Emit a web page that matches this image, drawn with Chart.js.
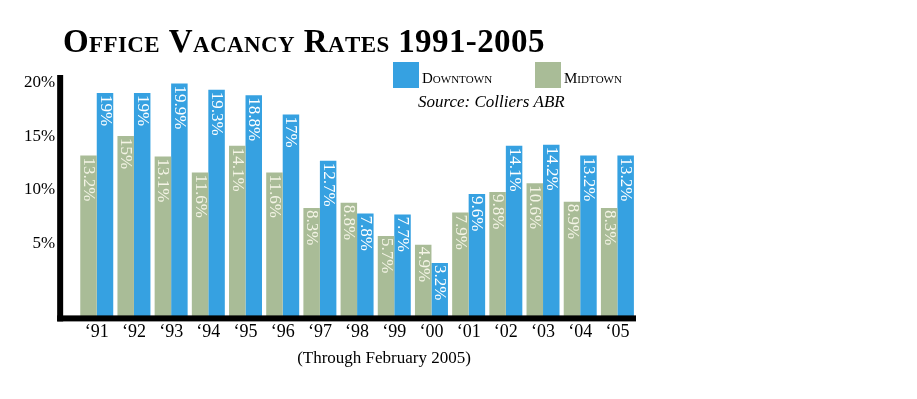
<!DOCTYPE html>
<html>
<head>
<meta charset="utf-8">
<title>Office Vacancy Rates 1991-2005</title>
<script src="https://cdn.jsdelivr.net/npm/chart.js@4.4.1/dist/chart.umd.min.js"></script>
<style>
    html, body { margin: 0; padding: 0; background: #fff; }
    #chart { display: block; }
</style>
</head>
<body>
<canvas id="chart" width="917" height="399"></canvas>
<script>
// Office vacancy rates 1991-2005 - Chart.js
const years = ['\u201891', '\u201892', '\u201893', '\u201894', '\u201895', '\u201896', '\u201897', '\u201898',
    '\u201899', '\u201800', '\u201801', '\u201802', '\u201803', '\u201804', '\u201805'];
const midtown = [13.2, 15, 13.1, 11.6, 14.1, 11.6, 8.3, 8.8, 5.7, 4.9, 7.9, 9.8, 10.6, 8.9, 8.3];
const downtown = [19, 19, 19.9, 19.3, 18.8, 17, 12.7, 7.8, 7.7, 3.2, 9.6, 14.1, 14.2, 13.2, 13.2];
const yTicks = [5, 10, 15, 20];

const SERIF = "'Liberation Serif', 'Times New Roman', serif";
const BLUE = '#36a1e1';
const GREEN = '#a9bc97';

// the bottom line sits a bit below zero in the original graphic
const Y_MIN = -1.96;
const Y_MAX = 20.68;

// draws text with real capitals large and lower case as smaller capitals
function drawCaps(ctx, text, x, y, big, small, weight, spacing) {
    let cx = x;
    for (const ch of text) {
        const lower = ch !== ch.toUpperCase();
        const c = ch.toUpperCase();
        ctx.font = `${weight} ${lower ? small : big}px ${SERIF}`;
        ctx.fillText(c, cx, y);
        cx += ctx.measureText(c).width + spacing;
    }
    return cx;
}

const decorPlugin = {
    id: 'decor',
    afterDatasetsDraw(chart) {
        const { ctx, chartArea: a } = chart;
        ctx.save();

        // heavy black axis lines
        ctx.fillStyle = '#000';
        const axisX = a.left - 21;
        ctx.fillRect(axisX, a.top, 6, a.bottom + 3 - a.top);
        ctx.fillRect(axisX, a.bottom - 3, a.right - axisX, 6);

        // rotated value labels inside the bars
        ctx.font = `17px ${SERIF}`;
        ctx.textAlign = 'left';
        ctx.textBaseline = 'middle';
        chart.data.datasets.forEach((ds, i) => {
            ctx.fillStyle = ds.valueColor;
            chart.getDatasetMeta(i).data.forEach((bar, j) => {
                ctx.save();
                ctx.translate(bar.x, bar.y + 2);
                ctx.rotate(Math.PI / 2);
                ctx.fillText(ds.data[j] + '%', 0, 0);
                ctx.restore();
            });
        });
        ctx.restore();
    },
    afterDraw(chart) {
        const ctx = chart.ctx;
        ctx.save();
        ctx.fillStyle = '#000';
        ctx.textAlign = 'left';
        ctx.textBaseline = 'alphabetic';

        drawCaps(ctx, 'Office Vacancy Rates 1991-2005', 63, 52, 33, 23, 'bold', 0.4);

        // legend, Downtown first
        const legendX = [393, 535];
        [...chart.data.datasets].reverse().forEach((ds, i) => {
            ctx.fillStyle = ds.backgroundColor;
            ctx.fillRect(legendX[i], 62, 26, 26);
            ctx.fillStyle = '#000';
            drawCaps(ctx, ds.label, legendX[i] + 29, 82.5, 15, 11, 'normal', 0);
        });

        ctx.font = `italic 17px ${SERIF}`;
        ctx.fillText('Source: Colliers ABR', 418, 107);

        ctx.textAlign = 'center';
        ctx.font = `17px ${SERIF}`;
        ctx.fillText('(Through February 2005)', 384, 363);
        ctx.restore();
    }
};

Chart.defaults.font.family = SERIF;
Chart.defaults.color = '#000';

new Chart(document.getElementById('chart'), {
    type: 'bar',
    data: {
        labels: years,
        datasets: [
            {
                label: 'Midtown',
                data: midtown,
                backgroundColor: GREEN,
                valueColor: '#f4f4e6',
                base: Y_MIN
            },
            {
                label: 'Downtown',
                data: downtown,
                backgroundColor: BLUE,
                valueColor: '#ffffff',
                base: Y_MIN
            }
        ]
    },
    options: {
        responsive: false,
        animation: false,
        devicePixelRatio: 1,
        layout: { padding: { top: 75, left: 1, right: 281, bottom: 53 } },
        categoryPercentage: 0.887,
        barPercentage: 1,
        plugins: {
            legend: { display: false },
            tooltip: { enabled: false }
        },
        scales: {
            x: {
                grid: { display: false, drawTicks: false },
                border: { display: false },
                ticks: { font: { size: 18 }, padding: 3, color: '#000' }
            },
            y: {
                min: Y_MIN,
                max: Y_MAX,
                grid: { display: false, drawTicks: false },
                border: { display: false },
                afterBuildTicks: (scale) => {
                    scale.ticks = yTicks.map(v => ({ value: v }));
                },
                ticks: {
                    font: { size: 17 },
                    padding: 23,
                    color: '#000',
                    callback: (v) => v + '%'
                }
            }
        }
    },
    plugins: [decorPlugin]
});
</script>
</body>
</html>
